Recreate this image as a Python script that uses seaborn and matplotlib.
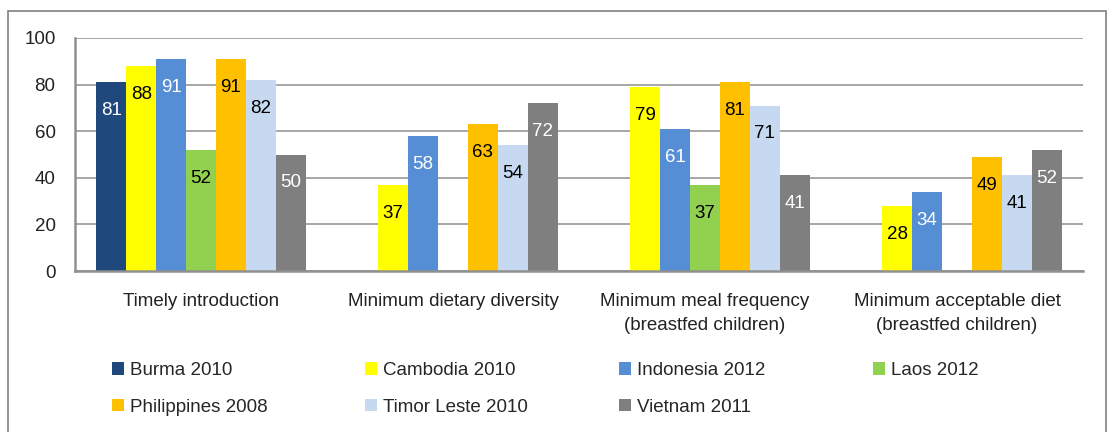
import matplotlib
matplotlib.use("Agg")
import matplotlib.pyplot as plt
import numpy as np
import pandas as pd
import seaborn as sns
from matplotlib.patches import Patch, Rectangle

categories = ["Timely introduction", "Minimum dietary diversity",
              "Minimum meal frequency\n(breastfed children)",
              "Minimum acceptable diet\n(breastfed children)"]
countries = ["Burma 2010", "Cambodia 2010", "Indonesia 2012", "Laos 2012",
             "Philippines 2008", "Timor Leste 2010", "Vietnam 2011"]

burma = [81, np.nan, np.nan, np.nan]
cambodia = [88, 37, 79, 28]
indonesia = [91, 58, 61, 34]
laos = [52, np.nan, 37, np.nan]
philippines = [91, 63, 81, 49]
timor = [82, 54, 71, 41]
vietnam = [50, 72, 41, 52]

colors = ["#1F497D", "#FFFF00", "#558ED5", "#92D050", "#FFC000", "#C6D9F1", "#7F7F7F"]
label_colors = ["white", "black", "white", "black", "black", "black", "white"]

series = [burma, cambodia, indonesia, laos, philippines, timor, vietnam]
rows = []
for name, vals in zip(countries, series):
    for cat, v in zip(categories, vals):
        rows.append({"category": cat, "country": name, "value": v})
df = pd.DataFrame(rows).dropna()

sns.set_style("white")
plt.rcParams["font.family"] = ["Liberation Sans", "DejaVu Sans"]
FS = 13.5

fig = plt.figure(figsize=(11.08, 4.32), dpi=100)
ax = fig.add_axes([75 / 1108, 1 - 271 / 432, (1083 - 75) / 1108, (271 - 38) / 432])

sns.barplot(data=df, x="category", y="value", hue="country", order=categories,
            hue_order=countries, palette=colors, width=0.83, linewidth=0,
            saturation=1, ax=ax, legend=False)

for cont, lc in zip(ax.containers, label_colors):
    ax.bar_label(cont, fmt="%.0f", padding=-26.5, color=lc, fontsize=FS)

ax.set_ylim(0, 100)
ax.set_xlim(-0.5, 3.5)
ax.set_yticks(range(0, 101, 20))
ax.yaxis.grid(True, color="#A0A0A0", linewidth=1.3)
ax.set_axisbelow(True)
ax.set_xlabel("")
ax.set_ylabel("")
for s in ["top", "right"]:
    ax.spines[s].set_visible(False)
for s in ["left", "bottom"]:
    ax.spines[s].set_color("#909090")
    ax.spines[s].set_linewidth(1.8)
ax.tick_params(axis="y", length=6, width=1.3, color="#909090", labelsize=FS,
               labelcolor="#222222", pad=8)
ax.tick_params(axis="x", which="major", length=0, labelsize=FS,
               labelcolor="#222222", pad=15.5)
ax.set_xticks(np.arange(-0.5, 4, 1), minor=True)
ax.tick_params(axis="x", which="minor", length=6, width=1.3, color="#909090")
for t in ax.get_xticklabels():
    t.set_linespacing(1.6)

# legend: one small legend per column so the columns sit at even steps
col_x = [112, 365, 619, 873]
for j, x in enumerate(col_x):
    idx = [j, j + 4] if j + 4 < len(countries) else [j]
    handles = [Patch(facecolor=colors[i], edgecolor="none", label=countries[i]) for i in idx]
    fig.legend(handles=handles, loc="upper left",
               bbox_to_anchor=(x / 1108, 1 - 362 / 432),
               frameon=False, fontsize=FS, handlelength=0.65,
               handleheight=0.65, handletextpad=0.3, labelspacing=1.05,
               borderaxespad=0, borderpad=0)

fig.patches.append(Rectangle((8 / 1108, -0.05), 1098 / 1108, 1.05 - 11 / 432,
                             transform=fig.transFigure, fill=False,
                             edgecolor="#808080", linewidth=1.2))

fig.savefig("out.png", dpi=100)
